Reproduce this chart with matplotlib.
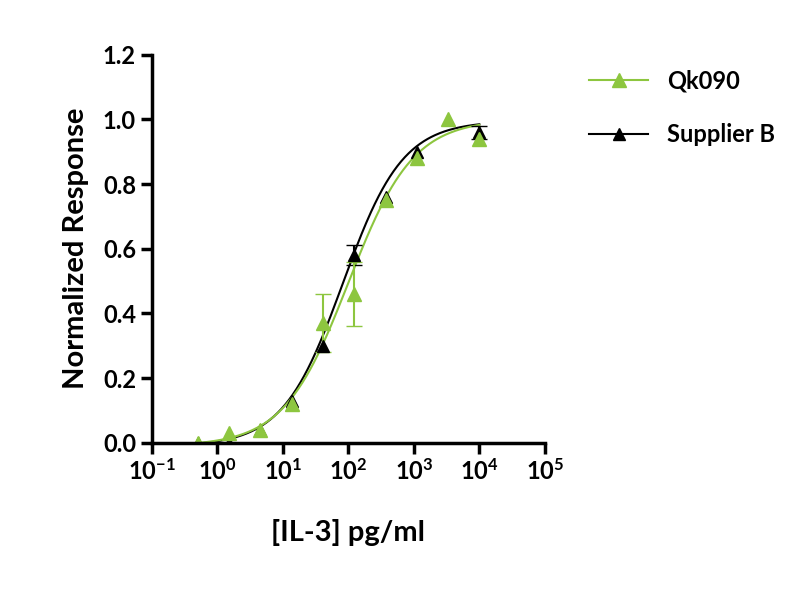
import numpy as np
import matplotlib
matplotlib.use("Agg")
import matplotlib.pyplot as plt
from matplotlib.lines import Line2D

plt.rcParams["font.family"] = "Lato"
plt.rcParams["mathtext.fontset"] = "custom"
plt.rcParams["mathtext.rm"] = "Lato:bold"
plt.rcParams["mathtext.default"] = "rm"

conc = [0.5, 1.5, 4.5, 13.7, 41, 123, 370, 1111, 3333, 10000]
qk_y = [0.0, 0.03, 0.04, 0.12, 0.37, 0.46, 0.75, 0.88, 1.00, 0.94]
qk_err = [np.nan, np.nan, np.nan, np.nan, 0.09, 0.10, np.nan, np.nan, np.nan, np.nan]
sb_conc = [0.5, 1.5, 4.5, 13.7, 41, 123, 370, 1111, 10000]
sb_y = [0.0, 0.0, 0.04, 0.13, 0.30, 0.58, 0.76, 0.90, 0.96]
sb_err = [np.nan, np.nan, np.nan, np.nan, np.nan, 0.03, np.nan, np.nan, 0.02]
# 4PL fit parameters: bottom, top, ec50, hill
qk_fit = [-0.01, 1.0, 100.0, 0.88]
sb_fit = [-0.01, 0.995, 82.0, 0.95]

green = "#8dc63f"
fig = plt.figure(figsize=(8, 6), dpi=100)
ax = fig.add_axes([0.19, 0.262, 0.491, 0.647])
xx = np.logspace(np.log10(0.5), 4, 300)
def fpl(x, p):
    b, t, e, h = p
    return b + (t - b) / (1 + (e / x) ** h)
ax.plot(xx, fpl(xx, sb_fit), color="black", lw=1.5)
ax.plot(xx, fpl(xx, qk_fit), color=green, lw=1.5)
ax.errorbar(sb_conc, sb_y, yerr=sb_err, fmt="^", color="black", ms=9, capsize=6, lw=1.5)
ax.errorbar(conc, qk_y, yerr=qk_err, fmt="^", color=green, ms=10, capsize=6, lw=1.5)
ax.set_xscale("log")
ax.set_xlim(0.1, 1e5)
ax.set_ylim(0, 1.2)
ax.set_xticks([10.0**k for k in range(-1, 6)])
ax.set_xticklabels([f"10$^{{{k}}}$" for k in range(-1, 6)])
ax.xaxis.set_minor_locator(matplotlib.ticker.NullLocator())
ax.set_yticks(np.arange(0, 1.21, 0.2))
ax.set_yticklabels([f"{v:.1f}" for v in np.arange(0, 1.21, 0.2)])
for s in ["top", "right"]:
    ax.spines[s].set_visible(False)
for s in ["left", "bottom"]:
    ax.spines[s].set_linewidth(2.5)
ax.tick_params(width=2.5, length=8, labelsize=17)
for t in ax.get_xticklabels() + ax.get_yticklabels():
    t.set_fontweight("bold")
ax.set_xlabel("[IL-3] pg/ml", fontsize=21, fontweight="bold", labelpad=25)
ax.set_ylabel("Normalized Response", fontsize=21, fontweight="bold", labelpad=10)
handles = [Line2D([], [], color=green, marker="^", ms=10, lw=1.5),
           Line2D([], [], color="black", marker="^", ms=9, lw=1.5)]
fig.legend(handles, ["Qk090", "Supplier B"], loc="upper left", bbox_to_anchor=(0.71, 0.92),
           frameon=False, prop={"size": 17, "weight": "bold"}, labelspacing=1.3, handlelength=2.5)
fig.savefig("out.png")
